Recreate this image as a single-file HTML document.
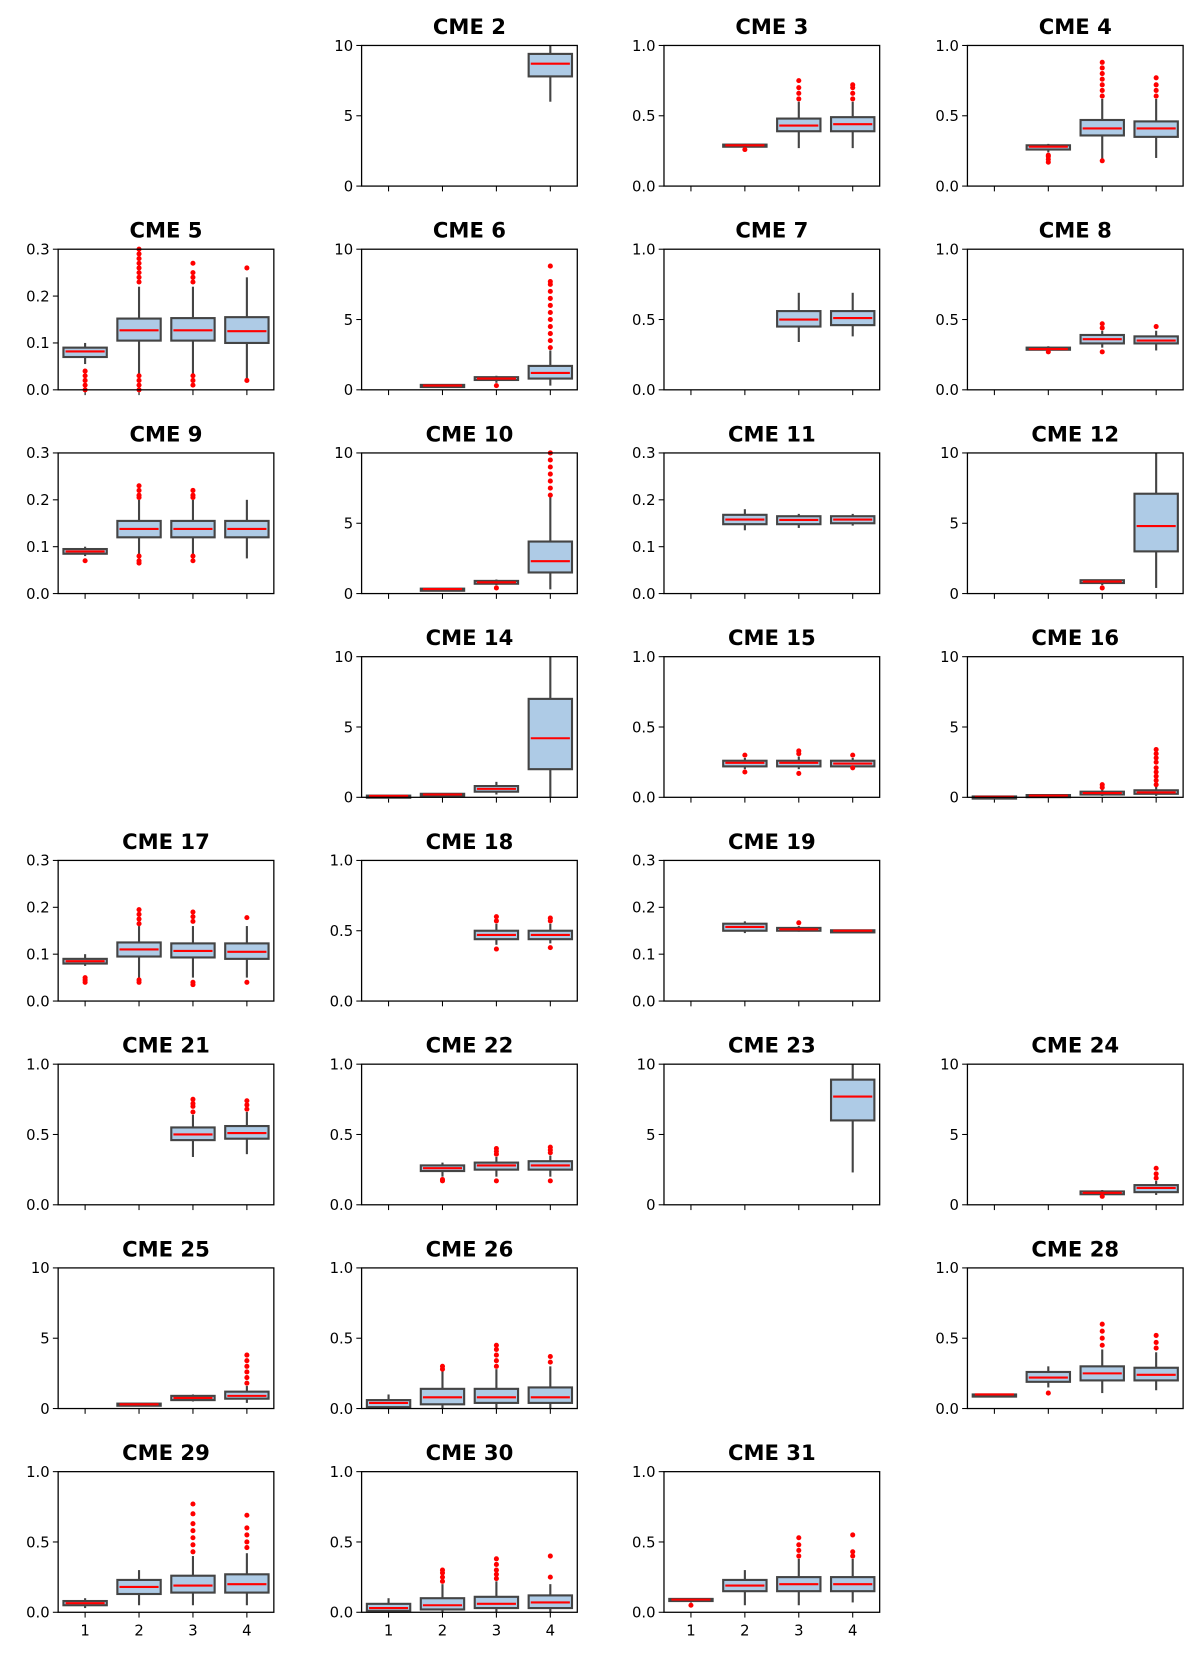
<!DOCTYPE html>
<html><head><meta charset="utf-8">
<style>
body{margin:0;background:#fff;}
svg{display:block;font-family:"DejaVu Sans","Liberation Sans",sans-serif;}
</style></head>
<body>
<svg width="1200" height="1660" viewBox="0 0 1200 1660"><g id="fig" transform="scale(1.0573)"></g></svg>
<script>
const panelTitles=["CME 2","CME 3","CME 4","CME 5","CME 6","CME 7","CME 8","CME 9","CME 10","CME 11","CME 12","CME 14","CME 15","CME 16","CME 17","CME 18","CME 19","CME 21","CME 22","CME 23","CME 24","CME 25","CME 26","CME 28","CME 29","CME 30","CME 31"];
const panelSlots=[1,2,3,4,5,6,7,8,9,10,11,13,14,15,16,17,18,20,21,22,23,24,25,27,28,29,30];
const panelYMax=[10,1,1,0.3,10,1,1,0.3,10,0.3,10,10,1,10,0.3,1,0.3,1,1,10,10,10,1,1,1,1,1];
const categories=["1","2","3","4"];
// stats per category: [whisLo,q1,median,q3,whisHi] or null
const boxStats=[
[null,null,null,[6,7.8,8.7,9.4,10]],
[null,[0.275,0.28,0.29,0.295,0.3],[0.27,0.39,0.43,0.48,0.6],[0.27,0.39,0.44,0.49,0.6]],
[null,[0.24,0.26,0.28,0.29,0.3],[0.19,0.36,0.41,0.47,0.62],[0.2,0.35,0.41,0.46,0.62]],
[[0.055,0.07,0.082,0.09,0.1],[0.03,0.105,0.127,0.152,0.22],[0.03,0.105,0.127,0.153,0.22],[0.02,0.1,0.125,0.155,0.24]],
[null,[0.2,0.25,0.3,0.35,0.4],[0.5,0.7,0.8,0.9,1.0],[0.3,0.8,1.2,1.7,2.8]],
[null,null,[0.34,0.45,0.5,0.56,0.69],[0.38,0.46,0.51,0.56,0.69]],
[null,[0.28,0.285,0.29,0.3,0.31],[0.3,0.33,0.36,0.39,0.42],[0.28,0.33,0.35,0.38,0.42]],
[[0.08,0.085,0.09,0.095,0.1],[0.08,0.12,0.138,0.155,0.2],[0.08,0.12,0.138,0.155,0.2],[0.075,0.12,0.138,0.155,0.2]],
[null,[0.25,0.3,0.32,0.35,0.38],[0.6,0.7,0.8,0.9,1.0],[0.3,1.5,2.3,3.7,7]],
[null,[0.135,0.148,0.158,0.168,0.18],[0.14,0.148,0.157,0.165,0.17],[0.145,0.15,0.158,0.165,0.17]],
[null,null,[0.6,0.75,0.85,0.95,1.0],[0.4,3,4.8,7.1,10]],
[[0.05,0.08,0.1,0.12,0.15],[0.1,0.15,0.2,0.25,0.3],[0.2,0.4,0.6,0.8,1.1],[0,2,4.2,7,10]],
[null,[0.2,0.22,0.245,0.26,0.28],[0.2,0.22,0.245,0.26,0.29],[0.2,0.22,0.24,0.26,0.28]],
[[0,0.02,0.04,0.06,0.08],[0.05,0.1,0.12,0.16,0.2],[0.1,0.2,0.3,0.4,0.6],[0.1,0.25,0.35,0.5,0.8]],
[[0.075,0.08,0.085,0.09,0.1],[0.05,0.095,0.11,0.125,0.16],[0.05,0.093,0.107,0.123,0.16],[0.05,0.09,0.105,0.123,0.16]],
[null,null,[0.4,0.44,0.47,0.5,0.55],[0.41,0.44,0.47,0.5,0.55]],
[null,[0.145,0.15,0.158,0.165,0.17],[0.148,0.15,0.153,0.156,0.16],[0.148,0.149,0.15,0.151,0.152]],
[null,null,[0.34,0.46,0.5,0.55,0.64],[0.36,0.47,0.51,0.56,0.66]],
[null,[0.2,0.24,0.26,0.28,0.3],[0.2,0.25,0.28,0.3,0.34],[0.2,0.25,0.28,0.31,0.35]],
[null,null,null,[2.3,6,7.7,8.9,10]],
[null,null,[0.7,0.75,0.85,0.95,1.05],[0.7,0.9,1.2,1.4,1.7]],
[null,[0.2,0.25,0.3,0.35,0.4],[0.5,0.6,0.75,0.9,1.0],[0.4,0.7,0.9,1.2,1.6]],
[[0,0.01,0.04,0.06,0.1],[0,0.03,0.08,0.14,0.27],[0,0.04,0.08,0.14,0.28],[0,0.04,0.08,0.15,0.3]],
[[0.1,0.1,0.1,0.1,0.1],[0.15,0.19,0.22,0.26,0.3],[0.11,0.2,0.25,0.3,0.42],[0.13,0.2,0.24,0.29,0.4]],
[[0.03,0.05,0.065,0.08,0.1],[0.05,0.13,0.18,0.23,0.3],[0.05,0.14,0.19,0.26,0.4],[0.05,0.14,0.2,0.27,0.42]],
[[0,0.01,0.03,0.06,0.1],[0,0.02,0.05,0.1,0.2],[0,0.03,0.06,0.11,0.22],[0,0.03,0.07,0.12,0.2]],
[[0.07,0.08,0.09,0.095,0.1],[0.05,0.15,0.19,0.23,0.3],[0.05,0.15,0.2,0.25,0.38],[0.07,0.15,0.2,0.25,0.38]]
];
const outlierVals=[
[[],[],[],[]],
[[],[0.26],[0.62,0.66,0.7,0.75],[0.62,0.66,0.7,0.72]],
[[],[0.17,0.19,0.21,0.22],[0.18,0.64,0.68,0.72,0.76,0.8,0.84,0.88],[0.64,0.68,0.72,0.77]],
[[0.0,0.01,0.02,0.03,0.04],[0.0,0.01,0.02,0.03,0.23,0.24,0.25,0.26,0.27,0.28,0.29,0.3],[0.01,0.02,0.03,0.23,0.24,0.25,0.27],[0.02,0.26]],
[[],[],[0.3],[3,3.5,4,4.5,5,5.5,6,6.5,7,7.5,7.7,8.8]],
[[],[],[],[]],
[[],[0.27],[0.27,0.44,0.47],[0.45]],
[[0.07],[0.065,0.07,0.08,0.205,0.21,0.22,0.23],[0.07,0.08,0.205,0.21,0.22],[]],
[[],[],[0.4],[7,7.5,8,8.5,9,9.5,10]],
[[],[],[],[]],
[[],[],[0.4],[]],
[[],[],[],[]],
[[],[0.18,0.3],[0.17,0.31,0.33],[0.21,0.3]],
[[],[],[0.7,0.9],[0.9,1.2,1.5,1.8,2.1,2.5,2.8,3.1,3.4]],
[[0.04,0.045,0.05],[0.04,0.045,0.165,0.175,0.185,0.195],[0.035,0.04,0.17,0.18,0.19],[0.04,0.178]],
[[],[],[0.37,0.57,0.6],[0.38,0.57,0.59]],
[[],[],[0.167],[]],
[[],[],[0.66,0.7,0.72,0.75],[0.68,0.71,0.74]],
[[],[0.17,0.18],[0.17,0.36,0.38,0.4],[0.17,0.37,0.39,0.41]],
[[],[],[],[]],
[[],[],[0.6],[1.9,2.2,2.6]],
[[],[],[],[1.8,2.2,2.6,3,3.4,3.8]],
[[],[0.28,0.3],[0.3,0.34,0.38,0.42,0.45],[0.33,0.37]],
[[],[0.11],[0.45,0.5,0.55,0.6],[0.43,0.47,0.52]],
[[],[],[0.43,0.48,0.53,0.58,0.63,0.7,0.77],[0.46,0.5,0.55,0.6,0.69]],
[[],[0.22,0.25,0.28,0.3],[0.24,0.27,0.3,0.34,0.38],[0.25,0.4]],
[[0.05],[],[0.4,0.44,0.48,0.53],[0.4,0.43,0.55]]
];

const NS="http://www.w3.org/2000/svg";
const svg=document.getElementById("fig");
const colLeft=[55,342,628,915], W=204, H=133;
function rowTop(r){return 43+r*192.7;}
function mk(tag,attrs,parent){const e=document.createElementNS(NS,tag);for(const k in attrs)e.setAttribute(k,attrs[k]);(parent||svg).appendChild(e);return e;}
function fmt(v,ymax){return ymax===10?String(v):v.toFixed(1);}

panelTitles.forEach((title,pi)=>{
  const slot=panelSlots[pi], col=slot%4, row=Math.floor(slot/4);
  const x0=colLeft[col], y0=rowTop(row), ymax=panelYMax[pi];
  const g=mk("g",{});
  
  
  const xs=i=>x0+(i+0.5)*W/4;
  const ys=v=>y0+H-Math.min(v,ymax)/ymax*H;
  const t=mk("text",{x:x0+W/2,y:y0-11,"text-anchor":"middle","font-size":"20","font-weight":"bold",fill:"#000"},g);
  t.textContent=title;
  
  
  const ticks=ymax===10?[0,5,10]:ymax===1?[0,0.5,1]:[0,0.1,0.2,0.3];
  ticks.forEach(v=>{
    mk("line",{x1:x0-5,x2:x0,y1:ys(v),y2:ys(v),stroke:"#000","stroke-width":1},g);
    const tl=mk("text",{x:x0-8,y:ys(v)+5,"text-anchor":"end","font-size":"14",fill:"#000"},g);
    tl.textContent=fmt(v,ymax);
    
    
  });
  categories.forEach((c,i)=>{
    mk("line",{x1:xs(i),x2:xs(i),y1:y0+H,y2:y0+H+5,stroke:"#000","stroke-width":1},g);
    if(row===7){
      const xl=mk("text",{x:xs(i),y:y0+H+22,"text-anchor":"middle","font-size":"14",fill:"#000"},g);
      xl.textContent=c;
      
      
    }
    const s=boxStats[pi][i];
    if(s){
      const bw=41, cx=xs(i);
      mk("line",{x1:cx,x2:cx,y1:ys(s[0]),y2:ys(s[1]),stroke:"#444","stroke-width":2},g);
      mk("line",{x1:cx,x2:cx,y1:ys(s[3]),y2:ys(s[4]),stroke:"#444","stroke-width":2},g);
      const b=mk("rect",{x:cx-bw/2,y:ys(s[3]),width:bw,height:Math.max(ys(s[1])-ys(s[3]),2),fill:"#aecbe6",stroke:"#444","stroke-width":2},g);
      
      
      mk("line",{x1:cx-bw/2+2,x2:cx+bw/2-2,y1:ys(s[2]),y2:ys(s[2]),stroke:"#ff0000","stroke-width":2},g);
    }
    outlierVals[pi][i].forEach(v=>{
      const d=mk("circle",{cx:xs(i),cy:ys(v),r:2.4,fill:"#ff0000"},g);
      
      
    });
  });
  mk("rect",{x:x0,y:y0,width:W,height:H,fill:"none",stroke:"#000","stroke-width":1.2},g);
});
</script>
</body></html>
